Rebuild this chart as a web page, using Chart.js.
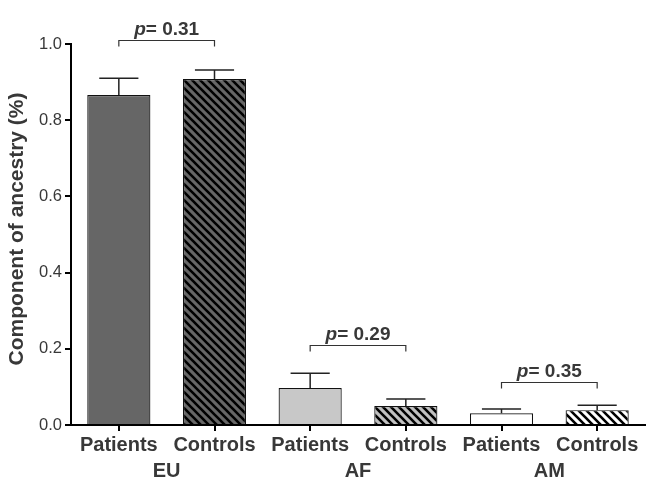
<!DOCTYPE html>
<html><head>
<meta charset="utf-8">
<script src="https://cdn.jsdelivr.net/npm/chart.js@4"></script>
<style>html,body{margin:0;padding:0;background:#fff}canvas{display:block}</style>
</head><body>
<canvas id="c" width="646" height="493"></canvas>
<script>
const categories = ["Patients","Controls","Patients","Controls","Patients","Controls"];
const groups = ["EU","AF","AM"];
const means = [0.866,0.908,0.097,0.050,0.031,0.039];
const errorTops = [0.910,0.932,0.136,0.068,0.042,0.052];
const pValues = ["0.31","0.29","0.35"];
const bracketLevels = [1.01,0.21,0.113];
const yTicks = [0.0,0.2,0.4,0.6,0.8,1.0];
const yTitle = "Component of ancestry (%)";

const FONT = "'Liberation Sans', Arial, sans-serif";
const TXT = "#383838";

function hatch(bg){
  const s=8, c=document.createElement('canvas'); c.width=s; c.height=s;
  const g=c.getContext('2d');
  g.fillStyle=bg; g.fillRect(0,0,s,s);
  g.strokeStyle='#000'; g.lineWidth=2.6;
  g.beginPath();
  g.moveTo(-2,-2); g.lineTo(s+2,s+2);
  g.moveTo(-2,s-2); g.lineTo(2,s+2);
  g.moveTo(s-2,-2); g.lineTo(s+2,2);
  g.stroke();
  return document.getElementById('c').getContext('2d').createPattern(c,'repeat');
}
const fills = ['#666666', hatch('#666666'), '#c8c8c8', hatch('#c0c0c0'), '#ffffff', hatch('#ffffff')];

const overlay = {
  id:'overlay',
  afterDatasetsDraw(chart){
    const ctx=chart.ctx, x=chart.scales.x, y=chart.scales.y;
    const meta=chart.getDatasetMeta(0);
    ctx.save();
    // error bars
    ctx.strokeStyle='#222'; ctx.lineWidth=1.5;
    meta.data.forEach((bar,i)=>{
      const cx=bar.x, yt=y.getPixelForValue(errorTops[i]), yb=y.getPixelForValue(means[i]);
      const hw=bar.width*0.31;
      ctx.beginPath();
      ctx.moveTo(cx,yb); ctx.lineTo(cx,yt);
      ctx.moveTo(cx-hw,yt); ctx.lineTo(cx+hw,yt);
      ctx.stroke();
    });
    // brackets & p values
    groups.forEach((g,k)=>{
      const x1=x.getPixelForValue(2*k), x2=x.getPixelForValue(2*k+1);
      const by=Math.round(y.getPixelForValue(bracketLevels[k]))+0.5;
      ctx.strokeStyle='#333'; ctx.lineWidth=1.2;
      ctx.beginPath();
      ctx.moveTo(x1,by+6); ctx.lineTo(x1,by); ctx.lineTo(x2,by); ctx.lineTo(x2,by+6);
      ctx.stroke();
      const f1="italic bold 19px "+FONT, f2="bold 19px "+FONT;
      ctx.font=f1; const wp=ctx.measureText('p').width;
      ctx.font=f2; const t='= '+pValues[k]; const wt=ctx.measureText(t).width;
      const cx=(x1+x2)/2, sx=cx-(wp+wt)/2;
      ctx.fillStyle=TXT; ctx.textBaseline='alphabetic'; ctx.textAlign='left';
      ctx.font=f1; ctx.fillText('p',sx,by-6);
      ctx.font=f2; ctx.fillText(t,sx+wp,by-6);
    });
    // group labels
    ctx.font="bold 20px "+FONT; ctx.fillStyle=TXT; ctx.textAlign='center'; ctx.textBaseline='middle';
    groups.forEach((g,k)=>{
      const cx=(x.getPixelForValue(2*k)+x.getPixelForValue(2*k+1))/2;
      ctx.fillText(g,cx,y.bottom+46);
    });
    // y title
    ctx.translate(17,229); ctx.rotate(-Math.PI/2);
    ctx.font="bold 21px "+FONT; ctx.fillText(yTitle,0,0);
    ctx.restore();
  }
};

new Chart(document.getElementById('c'),{
  type:'bar',
  data:{labels:categories,datasets:[{data:means,backgroundColor:fills,borderColor:'#111',borderWidth:1.2,barPercentage:0.66,categoryPercentage:1.0}]},
  options:{
    responsive:false, animation:false, devicePixelRatio:1,
    layout:{padding:{top:44,right:1,left:0,bottom:0}},
    plugins:{legend:{display:false},tooltip:{enabled:false}},
    scales:{
      x:{
        grid:{display:true,drawOnChartArea:false,drawTicks:true,tickLength:6,color:'#000',lineWidth:2,offset:false},
        border:{color:'#000',width:2},
        ticks:{color:TXT,font:{family:FONT,size:20,weight:'bold'},padding:2,maxRotation:0,autoSkip:false},
        afterFit(s){s.height=68;}
      },
      y:{
        min:0,max:1,
        afterBuildTicks(s){s.ticks=yTicks.map(v=>({value:v}));},
        grid:{display:true,drawOnChartArea:false,drawTicks:true,tickLength:6,color:'#000',lineWidth:2},
        border:{color:'#000',width:2},
        ticks:{color:TXT,font:{family:FONT,size:16.5},padding:3,callback:v=>Number(v).toFixed(1)},
        title:{display:false},
        afterFit(s){s.width=71;}
      }
    }
  },
  plugins:[overlay]
});
</script>
</body></html>
